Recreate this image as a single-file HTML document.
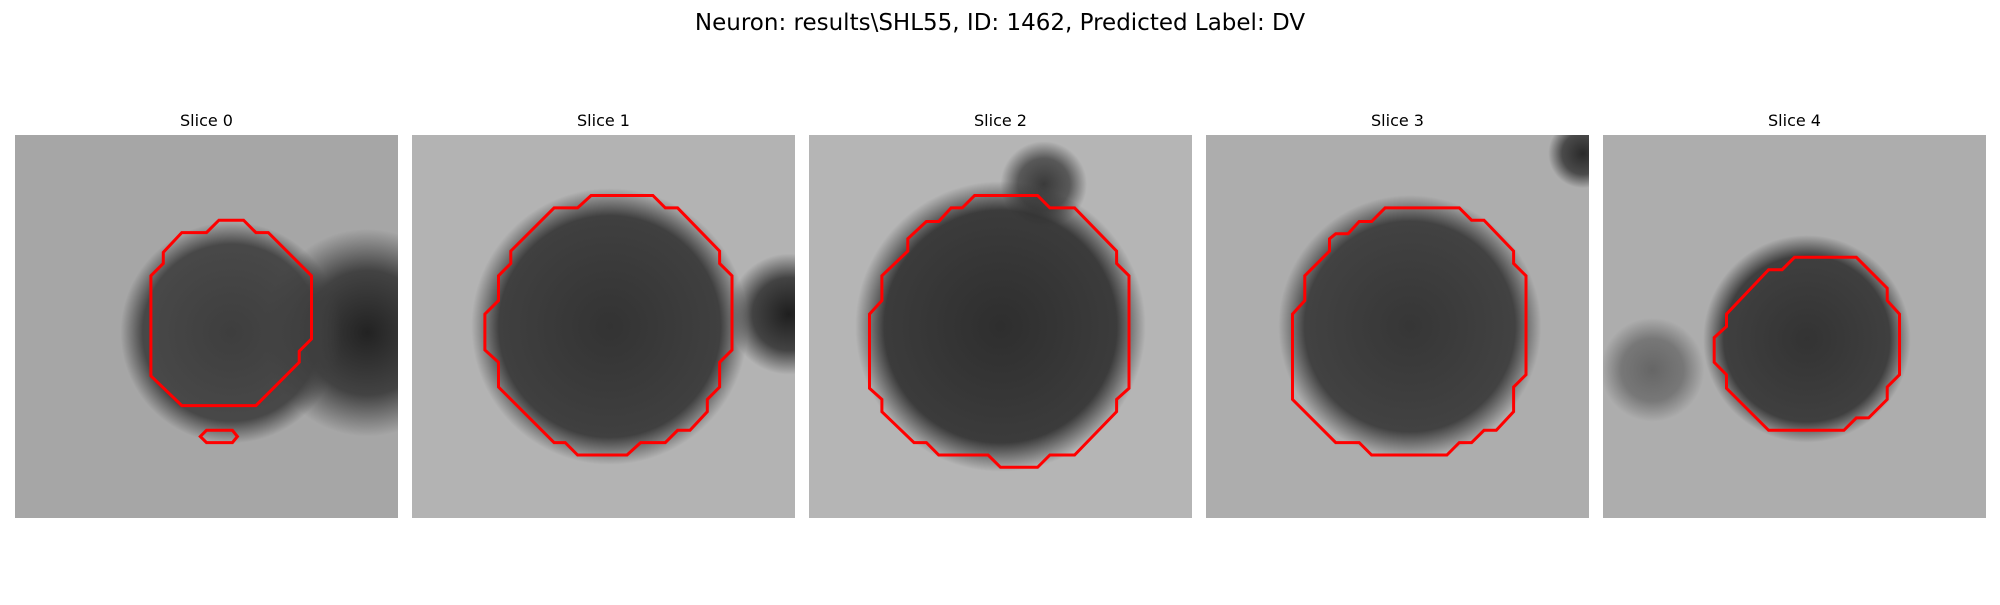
<!DOCTYPE html>
<html><head><meta charset="utf-8">
<style>
html,body{margin:0;padding:0;background:#fff;}
body{width:2000px;height:600px;overflow:hidden;font-family:"Liberation Sans","DejaVu Sans",sans-serif;}
</style></head>
<body>
<svg id="fig" width="2000" height="600" viewBox="0 0 2000 600" xmlns="http://www.w3.org/2000/svg">
<text x="1000" y="30" text-anchor="middle" font-size="23" font-family="DejaVu Sans, Liberation Sans, sans-serif" fill="#000">Neuron: results\SHL55, ID: 1462, Predicted Label: DV</text>
<g id="panels"></g>
</svg>
<script>
// data (cell units on a 31x31 grid)
const sliceLabels = ["Slice 0","Slice 1","Slice 2","Slice 3","Slice 4"];
const blobCx = [17.5, 16, 15.5, 16.5, 16.5];
const blobCy = [16, 15.5, 15.5, 15.5, 16.5];
const blobR  = [8, 10, 10.5, 9.5, 7.5];
const blobCore = ["#3e3e3e","#333333","#2e2e2e","#363636","#333333"];
const extraCx = [28.5, 30.5, 19, 30.5, 4];
const extraCy = [16, 14.5, 4, 1.5, 19];
const extraR  = [6, 3.5, 2.5, 2, 3];
const extraCore = ["#222222","#1e1e1e","#3a3a3a","#2a2a2a","#666666"];
const bgTone = ["#a6a6a6","#b3b3b3","#b5b5b5","#adadad","#adadad"];
const contours = [
 [[16.5,6.9],[18.5,6.9],[19.5,7.9],[20.5,7.9],[24,11.4],[24,16.5],[23,17.5],[23,18.4],[19.5,21.9],[13.5,21.9],[11,19.5],[11,11.4],[12,10.4],[12,9.5],[13.5,7.9],[15.5,7.9]],
 [[14.5,4.9],[19.5,4.9],[20.5,5.9],[21.5,5.9],[24.9,9.4],[24.9,10.4],[25.9,11.4],[25.9,17.4],[24.9,18.4],[24.9,20.4],[23.9,21.4],[23.9,22.4],[22.5,23.9],[21.5,23.9],[20.5,24.9],[18.5,24.9],[17.4,25.9],[13.4,25.9],[12.4,24.9],[11.5,24.9],[7,20.4],[7,18.4],[5.9,17.4],[5.9,14.5],[7,13.4],[7,11.4],[8,10.4],[8,9.4],[11.5,5.9],[13.4,5.9]],
 [[13.4,4.9],[18.5,4.9],[19.5,5.9],[21.5,5.9],[24.9,9.4],[24.9,10.4],[25.9,11.4],[25.9,20.5],[24.9,21.4],[24.9,22.4],[21.5,25.9],[19.5,25.9],[18.5,26.9],[15.5,26.9],[14.5,25.9],[10.5,25.9],[9.5,24.9],[8.5,24.9],[5.9,22.4],[5.9,21.4],[4.9,20.5],[4.9,14.5],[5.9,13.4],[5.9,11.4],[8,9.4],[8,8.4],[9.5,7],[10.5,7],[11.5,5.9],[12.4,5.9]],
 [[14.5,5.9],[20.5,5.9],[21.5,6.9],[22.5,6.9],[24.9,9.4],[24.9,10.4],[25.9,11.4],[25.9,19.4],[24.9,20.4],[24.9,22.4],[23.5,23.9],[22.5,23.9],[21.5,24.9],[20.5,24.9],[19.5,25.9],[13.4,25.9],[12.4,24.9],[10.5,24.9],[7,21.4],[7,14.5],[8,13.4],[8,11.4],[10,9.4],[10,8.4],[10.5,8],[11.5,8],[12.4,7],[13.4,7]],
 [[15.5,9.9],[20.5,9.9],[23,12.4],[23,13.4],[24,14.5],[24,19.4],[23,20.4],[23,21.4],[21.5,22.9],[20.5,22.9],[19.5,23.9],[13.4,23.9],[10,20.5],[10,19.4],[9,18.4],[9,16.4],[10,15.5],[10,14.5],[13.4,10.9],[14.5,10.9]]
];
const extraContours = [[[15.5,23.9],[17.6,23.9],[18,24.4],[17.6,24.9],[15.5,24.9],[15,24.4]]];

// layout
const NS="http://www.w3.org/2000/svg";
const panelX=[15,412,809,1206,1603], panelY=135, panelSize=383, nCells=31;
const cell=panelSize/nCells;
const root=document.getElementById('panels');
const defs=document.createElementNS(NS,'defs');root.appendChild(defs);
function mk(tag,attrs,parent){const e=document.createElementNS(NS,tag);for(const k in attrs)e.setAttribute(k,attrs[k]);parent.appendChild(e);return e;}
function pts(list,x0){return list.map(p=>(x0+p[0]*cell).toFixed(1)+','+(panelY+p[1]*cell).toFixed(1)).join(' ');}
sliceLabels.forEach((lab,i)=>{
  const x0=panelX[i];
  const g=mk('g',{},root);
  
  
  const t=mk('text',{x:x0+panelSize/2,y:126,'text-anchor':'middle','font-size':'16','font-family':'DejaVu Sans, Liberation Sans, sans-serif',fill:'#000'},g);
  t.textContent=lab;
  
  
  const gr=mk('radialGradient',{id:'bg'+i},defs);
  mk('stop',{offset:'0','stop-color':blobCore[i]},gr);
  mk('stop',{offset:'0.8','stop-color':blobCore[i],'stop-opacity':'0.9'},gr);
  mk('stop',{offset:'1','stop-color':blobCore[i],'stop-opacity':'0'},gr);
  const gr2=mk('radialGradient',{id:'ex'+i},defs);
  mk('stop',{offset:'0','stop-color':extraCore[i]},gr2);
  mk('stop',{offset:'0.6','stop-color':extraCore[i],'stop-opacity':'0.75'},gr2);
  mk('stop',{offset:'1','stop-color':extraCore[i],'stop-opacity':'0'},gr2);
  const cp=mk('clipPath',{id:'cp'+i},defs);
  mk('rect',{x:x0,y:panelY,width:panelSize,height:panelSize},cp);
  const img=mk('g',{'clip-path':'url(#cp'+i+')'},g);
  
  
  mk('rect',{x:x0,y:panelY,width:panelSize,height:panelSize,fill:bgTone[i]},img);
  mk('circle',{cx:x0+extraCx[i]*cell,cy:panelY+extraCy[i]*cell,r:extraR[i]*cell*1.4,fill:'url(#ex'+i+')'},img);
  mk('circle',{cx:x0+blobCx[i]*cell,cy:panelY+blobCy[i]*cell,r:blobR[i]*cell*1.12,fill:'url(#bg'+i+')'},img);
  const c=mk('polygon',{points:pts(contours[i],x0),fill:'none',stroke:'#ff0000','stroke-width':'3','stroke-linejoin':'miter'},g);
  
  
  if(i===0){extraContours.forEach((ec,j)=>{
    const c2=mk('polygon',{points:pts(ec,x0),fill:'none',stroke:'#ff0000','stroke-width':'3'},g);
    
    
  });}
});
</script>
</body></html>
